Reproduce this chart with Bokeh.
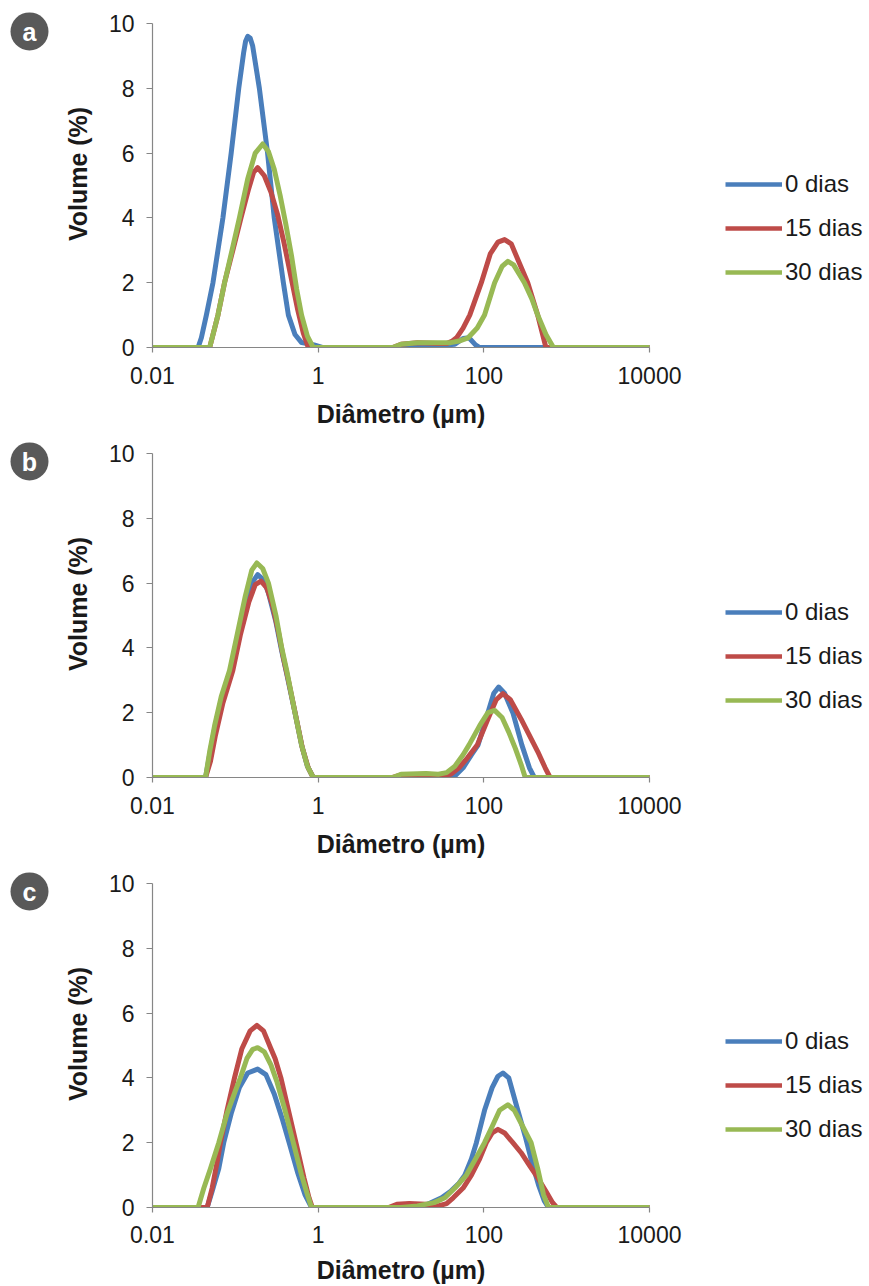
from bokeh.plotting import figure
from bokeh.layouts import column, row
from bokeh.models import (FixedTicker, NumeralTickFormatter, Legend, LegendItem, Range1d)
from bokeh.core.properties import value
from bokeh.embed import file_html
from bokeh.resources import INLINE

# ---------------- data ----------------
series_labels = ["0 dias", "15 dias", "30 dias"]
colors = ["#4A7EBB", "#BE4B48", "#98B954"]
x_ticks = [0.01, 1, 100, 10000]
y_ticks = [0, 2, 4, 6, 8, 10]
panel_letters = ["a", "b", "c"]
x_title = "Diâmetro (µm)"
y_title = "Volume (%)"

# panel a
a_d0 = [0.01, 0.0355, 0.0389, 0.0447, 0.0537, 0.0708, 0.0891, 0.110, 0.126, 0.133, 0.141,
        0.151, 0.162, 0.195, 0.245, 0.295, 0.380, 0.437, 0.525, 0.631, 0.891, 1.12,
        8.91, 12.6, 25.1, 44.7, 56.2, 66.1, 79.4, 89.1, 10000]
a_v0 = [0, 0, 0.3, 1.0, 2.0, 4.0, 6.0, 8.0, 9.1, 9.45, 9.6,
        9.55, 9.3, 8.0, 6.0, 4.0, 2.0, 1.0, 0.4, 0.15, 0.08, 0,
        0, 0.05, 0.05, 0.1, 0.28, 0.3, 0.08, 0, 0]
a_d15 = [0.01, 0.049, 0.055, 0.0617, 0.0741, 0.0933, 0.117, 0.145, 0.166, 0.186,
         0.224, 0.269, 0.324, 0.389, 0.468, 0.562, 0.661, 0.759,
         7.94, 10, 15.8, 28.2, 35.5, 41.7, 46.8, 56.2, 67.6, 93.3,
         120, 148, 178, 214, 269, 339, 447, 513, 562, 10000]
a_v15 = [0, 0, 0.5, 1.0, 2.0, 3.0, 4.0, 4.9, 5.4, 5.55,
         5.3, 4.8, 4.1, 3.2, 2.2, 1.2, 0.45, 0,
         0, 0.1, 0.15, 0.12, 0.12, 0.2, 0.3, 0.6, 1.0, 2.0,
         2.9, 3.25, 3.33, 3.2, 2.6, 2.0, 1.0, 0.4, 0, 0]
a_d30 = [0.01, 0.049, 0.055, 0.0617, 0.0741, 0.0912, 0.112, 0.141, 0.174, 0.214,
         0.251, 0.295, 0.347, 0.407, 0.479, 0.550, 0.631, 0.741, 0.871,
         7.94, 10, 15.8, 28.2, 39.8, 50.1, 64.6, 83.2, 102, 135,
         166, 195, 229, 309, 380, 447, 562, 692, 10000]
a_v30 = [0, 0, 0.5, 1.0, 2.0, 3.0, 4.0, 5.2, 6.0, 6.28,
         6.05, 5.5, 4.7, 3.8, 2.8, 1.8, 1.0, 0.35, 0,
         0, 0.1, 0.15, 0.15, 0.15, 0.2, 0.3, 0.6, 1.0, 2.0,
         2.5, 2.66, 2.55, 2.0, 1.5, 1.0, 0.4, 0, 0]

# panel b
b_d0 = [0.01, 0.0437, 0.049, 0.0562, 0.0676, 0.0851, 0.107, 0.132, 0.158, 0.186,
        0.219, 0.251, 0.309, 0.363, 0.417, 0.525, 0.631, 0.741, 0.871,
        35.5, 44.7, 56.2, 70.8, 85.1, 112, 132, 151, 178, 224,
        288, 355, 407, 10000]
b_v0 = [0, 0, 0.7, 1.5, 2.4, 3.2, 4.3, 5.3, 6.0, 6.26,
        6.1, 5.7, 4.8, 3.9, 3.2, 2.0, 1.0, 0.35, 0,
        0, 0.05, 0.3, 0.7, 1.0, 2.0, 2.6, 2.79, 2.6, 2.0,
        1.0, 0.3, 0, 0]
b_d15 = [0.01, 0.0437, 0.0501, 0.0575, 0.0708, 0.0933, 0.115, 0.145, 0.174, 0.204,
         0.240, 0.282, 0.331, 0.380, 0.437, 0.537, 0.646, 0.759, 0.871,
         7.94, 10, 20.0, 31.6, 39.8, 50.1, 63.1, 83.2, 112, 141,
         170, 209, 282, 355, 447, 550, 631, 10000]
b_v15 = [0, 0, 0.5, 1.3, 2.3, 3.3, 4.4, 5.4, 5.95, 6.06,
         5.85, 5.3, 4.5, 3.7, 3.0, 1.9, 0.9, 0.3, 0,
         0, 0.08, 0.1, 0.08, 0.1, 0.3, 0.6, 1.0, 1.8, 2.4,
         2.59, 2.4, 1.8, 1.3, 0.8, 0.3, 0, 0]
b_d30 = [0.01, 0.0437, 0.049, 0.0562, 0.0676, 0.0851, 0.107, 0.132, 0.158, 0.182,
         0.214, 0.251, 0.309, 0.363, 0.417, 0.525, 0.631, 0.741, 0.871,
         7.94, 10, 20.0, 28.2, 35.5, 44.7, 56.2, 66.1, 89.1, 112,
         135, 166, 200, 240, 282, 316, 10000]
b_v30 = [0, 0, 0.8, 1.6, 2.5, 3.3, 4.5, 5.6, 6.4, 6.62,
         6.45, 6.0, 5.0, 4.0, 3.3, 2.0, 1.0, 0.35, 0,
         0, 0.1, 0.12, 0.1, 0.15, 0.35, 0.7, 1.0, 1.6, 2.0,
         2.07, 1.85, 1.4, 0.9, 0.4, 0, 0]

# panel c
c_d0 = [0.01, 0.0457, 0.0525, 0.0631, 0.0724, 0.0891, 0.112, 0.141, 0.186, 0.234,
        0.295, 0.372, 0.447, 0.562, 0.692, 0.832,
        8.91, 12.6, 20.0, 30.9, 39.8, 50.1, 58.9, 70.8, 81.3, 102,
        126, 148, 170, 200, 257, 316, 380, 457, 537, 603, 10000]
c_v0 = [0, 0, 0.5, 1.2, 2.0, 2.9, 3.7, 4.15, 4.27, 4.1,
        3.5, 2.7, 2.0, 1.1, 0.4, 0,
        0, 0.03, 0.08, 0.3, 0.5, 0.75, 1.0, 1.5, 2.0, 3.0,
        3.7, 4.05, 4.15, 4.0, 3.0, 2.2, 1.4, 0.7, 0.2, 0, 0]
c_d15 = [0.01, 0.0457, 0.0525, 0.0603, 0.0661, 0.0794, 0.0977, 0.120, 0.151, 0.182,
         0.219, 0.269, 0.302, 0.355, 0.447, 0.562, 0.676, 0.776, 0.851,
         7.08, 8.91, 12.6, 20.0, 28.2, 35.5, 42.7, 56.2, 70.8, 89.1,
         107, 126, 148, 178, 224, 282, 355, 447, 562, 676, 759, 10000]
c_v15 = [0, 0, 0.6, 1.4, 2.0, 3.0, 4.0, 4.9, 5.45, 5.62,
         5.45, 4.9, 4.6, 4.0, 2.9, 1.8, 0.9, 0.3, 0,
         0, 0.1, 0.12, 0.1, 0.05, 0.12, 0.3, 0.6, 1.0, 1.5,
         2.0, 2.3, 2.41, 2.3, 2.0, 1.69, 1.3, 0.92, 0.5, 0.15, 0, 0]
c_d30 = [0.01, 0.0355, 0.0417, 0.0501, 0.0631, 0.0794, 0.1, 0.115, 0.138, 0.162,
         0.186, 0.224, 0.269, 0.316, 0.398, 0.501, 0.631, 0.741, 0.832,
         10, 15.8, 25.1, 33.9, 44.7, 61.7, 79.4, 102, 126, 155,
         195, 234, 295, 372, 447, 525, 603, 10000]
c_v30 = [0, 0, 0.6, 1.2, 2.0, 2.9, 3.6, 4.0, 4.6, 4.88,
         4.93, 4.8, 4.4, 3.9, 3.0, 2.0, 1.0, 0.4, 0,
         0, 0.05, 0.15, 0.3, 0.6, 1.0, 1.5, 2.0, 2.5, 3.0,
         3.17, 3.0, 2.5, 2.0, 1.2, 0.4, 0, 0]

panels = [
    [(a_d0, a_v0), (a_d15, a_v15), (a_d30, a_v30)],
    [(b_d0, b_v0), (b_d15, b_v15), (b_d30, b_v30)],
    [(c_d0, c_v0), (c_d15, c_v15), (c_d30, c_v30)],
]
panel_heights = [430, 430, 426]

# ---------------- styling ----------------
FONT = "Liberation Sans"
TXT = "#1a1a1a"
AXIS = "#868686"
BADGE_W = 60
LEG_W = 179
W = 869 - BADGE_W - LEG_W
FRAME_LEFT = 152 - BADGE_W
FRAME_RIGHT_BORDER = 869 - LEG_W - 649
FRAME_H = 348          # frame from figure top down to the x axis
TEN_PX = 325           # pixels between y=0 and y=10
Y_END = 10 * FRAME_H / TEN_PX


def bare_figure(width, height):
    bottom = height - FRAME_H
    f = figure(width=width, height=height, x_range=Range1d(0, width),
               y_range=Range1d(bottom, height), output_backend="svg",
               toolbar_location=None, x_axis_location=None, y_axis_location=None,
               min_border_left=0, min_border_right=0,
               min_border_top=0, min_border_bottom=bottom)
    f.title.visible = False
    f.grid.visible = False
    f.outline_line_color = None
    return f


def make_badge(letter, height):
    b = bare_figure(BADGE_W, height)
    b.scatter(x=[29], y=[height - 31], size=38, marker="circle",
              fill_color="#595959", line_color=None)
    b.text(x=[29], y=[height - 32], text=[letter], text_font=value(FONT),
           text_font_size="25px", text_font_style="bold", text_color="white",
           text_align="center", text_baseline="middle")
    return b


def make_legend_fig(height, y_loc):
    g = bare_figure(LEG_W, height)
    nan = float("nan")
    rs = [g.line([nan], [nan], line_color=col, line_width=4.5)
          for col in colors]
    legend = Legend(
        items=[LegendItem(label=lab, renderers=[r]) for lab, r in zip(series_labels, rs)],
        location=(35, y_loc), orientation="vertical",
        glyph_width=57, glyph_height=26, label_height=26, label_standoff=3,
        spacing=16, padding=0, margin=0,
        border_line_color=None, background_fill_alpha=0,
        label_text_font=FONT, label_text_font_size="24px", label_text_color=TXT,
    )
    g.add_layout(legend, "center")
    return g


def make_panel(data, height, label_standoff, title_standoff):
    bottom = height - FRAME_H
    p = figure(width=W, height=height, x_axis_type="log",
               x_range=Range1d(0.01, 10000), y_range=Range1d(0, Y_END),
               output_backend="svg", toolbar_location=None,
               min_border_left=FRAME_LEFT, min_border_right=FRAME_RIGHT_BORDER,
               min_border_top=0, min_border_bottom=bottom)
    p.title.visible = False
    p.outline_line_color = None
    p.xgrid.visible = False
    p.ygrid.visible = False

    for (d, v), col in zip(data, colors):
        p.line(d, v, line_color=col, line_width=5, line_join="round", line_cap="round")

    for ax in (p.xaxis[0], p.yaxis[0]):
        ax.axis_line_color = AXIS
        ax.axis_line_width = 1.2
        ax.major_tick_line_color = AXIS
        ax.major_tick_line_width = 1.2
        ax.major_tick_in = 0
        ax.minor_tick_line_color = None
        ax.major_label_text_font = FONT
        ax.major_label_text_font_size = "23px"
        ax.major_label_text_color = TXT
        ax.axis_label_text_font = FONT
        ax.axis_label_text_font_size = "25px"
        ax.axis_label_text_font_style = "bold"
        ax.axis_label_text_color = TXT

    p.xaxis.ticker = FixedTicker(ticks=x_ticks)
    p.xaxis.formatter = NumeralTickFormatter(format="0.[00]")
    p.xaxis.major_tick_out = 5
    p.xaxis.major_label_standoff = label_standoff
    p.xaxis.axis_label = x_title
    p.xaxis.axis_label_standoff = title_standoff

    p.yaxis.ticker = FixedTicker(ticks=y_ticks)
    p.yaxis.bounds = (0, 10)
    p.yaxis.major_tick_out = 6
    p.yaxis.major_label_standoff = 12
    p.yaxis.axis_label = y_title
    p.yaxis.axis_label_standoff = 14
    return p


rows = []
for letter, data, h, ls, ts, ly in zip(panel_letters, panels, panel_heights,
                                       [14, 14, 13], [13, 13, 10], [61, 63, 64]):
    rows.append(row(make_badge(letter, h), make_panel(data, h, ls, ts),
                    make_legend_fig(h, ly), spacing=0))
layout = column(*rows, spacing=0)
open("out.html", "w").write(file_html(layout, INLINE))
